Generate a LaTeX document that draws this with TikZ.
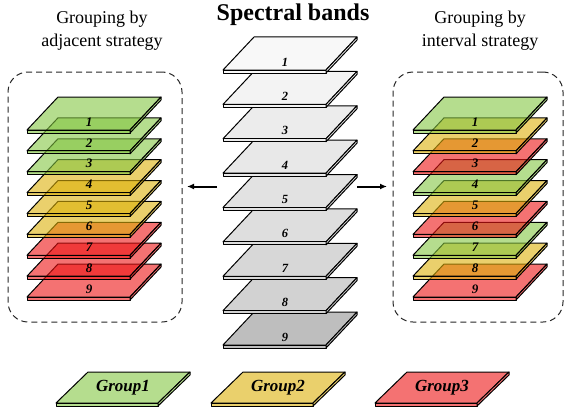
\documentclass[tikz,border=0pt]{standalone}
\usepackage{fontspec}
\setmainfont{Liberation Serif}
\usetikzlibrary{arrows.meta}
\definecolor{gL}{RGB}{181,221,142}
\definecolor{yL}{RGB}{234,208,108}
\definecolor{rL}{RGB}{244,114,114}
\definecolor{gC}{RGB}{132,198,67}
\definecolor{yC}{RGB}{220,177,10}
\definecolor{rC}{RGB}{237,20,20}
\tikzset{
  plateline/.style={draw=black,line width=1pt,line join=round},
  numlabel/.style={font=\fontsize{11}{11}\selectfont\bfseries\itshape,inner sep=0pt},
  grouplabel/.style={font=\fontsize{17}{17}\selectfont\bfseries\itshape,inner sep=0pt},
  headtext/.style={font=\fontsize{18}{18}\selectfont,anchor=base,inner sep=0pt},
  groupbox/.style={draw=black!85,line width=1pt,dash pattern=on 6pt off 4pt,rounded corners=20pt,minimum width=174pt,minimum height=250pt,inner sep=0pt},
  sidearrow/.style={-{Latex[length=7pt,width=6pt]},line width=2pt}
}
% x, y (front-left corner), fill colour, fill opacity, label, label size
\newcommand{\bandplate}[6]{%
  \begin{scope}[shift={(#1,{#2})}]
    \path[plateline,fill=#3,fill opacity=#4] (0,0) -- (103,0) -- (134,-33) -- (31,-33) -- cycle;
    \path[plateline,fill=#3,fill opacity=#4] (0,0) rectangle (103,3);
    \path[plateline,fill=#3,fill opacity=#4] (103,0) -- (134,-33) -- (134,-30) -- (103,3) -- cycle;
    \node[numlabel,font=\fontsize{#6}{#6}\selectfont\bfseries\itshape] at (62,-8) {#5};
  \end{scope}}
\newcommand{\legendplate}[3]{%
  \begin{scope}[shift={(#1,403)}]
    \path[plateline,fill=#2] (0,0) -- (102,0) -- (134,-31) -- (32,-31) -- cycle;
    \path[plateline,fill=#2] (0,0) rectangle (102,3);
    \path[plateline,fill=#2] (102,0) -- (134,-31) -- (134,-28) -- (102,3) -- cycle;
    \node[grouplabel] at (67,-15.5) {#3};
  \end{scope}}
\begin{document}
\begin{tikzpicture}[x=1pt,y=-1pt]
\useasboundingbox (0,0) rectangle (564,412);
% titles
\node[font=\fontsize{24}{24}\selectfont\bfseries,anchor=base,inner sep=0pt] (title) at (293,21) {Spectral bands};
\node[headtext] (adjtitleA) at (102,24) {Grouping by};
\node[headtext] (adjtitleB) at (102,47) {adjacent strategy};
\node[headtext] (inttitleA) at (480,24) {Grouping by};
\node[headtext] (inttitleB) at (480,47) {interval strategy};
% dashed boxes
\node[groupbox] (adjbox) at (95,197) {};
\node[groupbox,minimum width=170pt] (intbox) at (478,197) {};
% centre stack
\foreach \i/\g in {9/190,8/210,7/215,6/222,5/226,4/232,3/236,2/243,1/248}{
  \definecolor{bandgray}{RGB}{\g,\g,\g}
  \bandplate{223}{70+34.375*(\i-1)}{bandgray}{1}{\i}{12.5}
}
% adjacent stack
\foreach \i/\c in {9/rC,8/rC,7/rC,6/yC,5/yC,4/yC,3/gC,2/gC,1/gC}{
  \bandplate{27}{130+20.875*(\i-1)}{\c}{0.6}{\i}{13}
}
% interval stack
\foreach \i/\c in {9/rC,8/yC,7/gC,6/rC,5/yC,4/gC,3/rC,2/yC,1/gC}{
  \bandplate{413}{130+20.875*(\i-1)}{\c}{0.6}{\i}{13}
}
% arrows
\coordinate (lstart) at (217,186.5);
\coordinate (lend) at (187,186.5);
\coordinate (rstart) at (357,186.5);
\coordinate (rend) at (387,186.5);
\draw[sidearrow] (lstart) -- (lend);
\draw[sidearrow] (rstart) -- (rend);
% legend
\legendplate{56}{gL}{Group1}
\legendplate{211}{yL}{Group2}
\legendplate{375}{rL}{Group3}
\end{tikzpicture}
\end{document}
